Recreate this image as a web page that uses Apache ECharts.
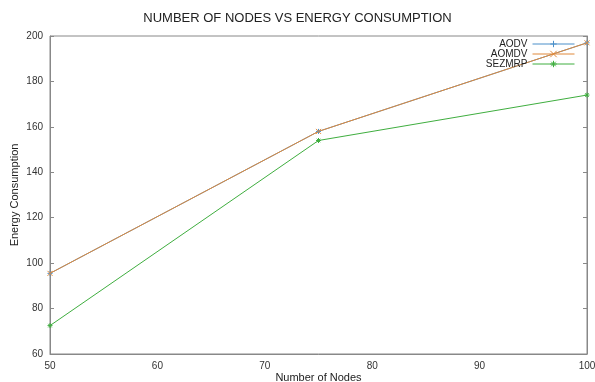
<!DOCTYPE html>
<html>
<head>
<meta charset="utf-8">
<script src="https://cdn.jsdelivr.net/npm/echarts@6/dist/echarts.min.js"></script>
<style>html,body{margin:0;padding:0;background:#fff}#c{width:595px;height:382px}</style>
</head>
<body>
<div id="c"></div>
<script>
const nodes = [50, 75, 100];
const aodv = [95.5, 158, 197];
const aomdv = [95.5, 158, 197];
const sezmrp = [72.5, 154, 174];
const xTicks = [50, 60, 70, 80, 90, 100];
const yTicks = [60, 80, 100, 120, 140, 160, 180, 200];

const FONT = 'Liberation Sans';
const plus = 'path://M0,5H10M5,0V10';
const cross = 'path://M0,0L10,10M10,0L0,10';
const star = 'path://M0,5H10M5,0V10M1.5,1.5L8.5,8.5M8.5,1.5L1.5,8.5';

function pairs(ys){ return nodes.map((x,i)=>[x, ys[i]]); }
function mk(name, ys, color, sym){
  return {
    name, type:'line', data: pairs(ys), symbol: sym, symbolSize: 5,
    showSymbol: true,
    lineStyle:{color, width:1},
    itemStyle:{color:'rgba(0,0,0,0)', borderColor: color, borderWidth: 1},
    emphasis:{disabled:true}, animation:false
  };
}
const chart = echarts.init(document.getElementById('c'), null, {renderer:'canvas'});
chart.setOption({
  animation:false,
  backgroundColor:'#fff',
  title:{text:'NUMBER OF NODES VS ENERGY CONSUMPTION', left:'center', top:7,
    textStyle:{fontFamily:FONT, fontSize:13, fontWeight:'normal', color:'#222'}},
  legend:{
    orient:'vertical', right:15, top:34, align:'right', itemGap:0,
    itemWidth:42, itemHeight:8,
    lineStyle:{width:1},
    itemStyle:{color:'rgba(0,0,0,0)', borderWidth:1},
    textStyle:{fontFamily:FONT, fontSize:10, color:'#222', padding:[0,0,0,0]},
    data:['AODV','AOMDV','SEZMRP']
  },
  grid:{left:50, right:8, top:36, bottom:28, show:true, borderColor:'#888', borderWidth:1,
    outerBoundsMode:'none', containLabel:false},
  xAxis:[{
    type:'value', min:50, max:100, interval:10,
    name:'Number of Nodes', nameLocation:'middle', nameGap:18, nameMoveOverlap:false,
    nameTextStyle:{fontFamily:FONT, fontSize:11, color:'#222'},
    axisLine:{show:true, lineStyle:{color:'#888'}},
    axisTick:{show:false},
    axisLabel:{fontFamily:FONT, fontSize:10, color:'#333', margin:7,
      formatter: v => xTicks.includes(v) ? String(v) : ''},
    splitLine:{show:false}
  }],
  yAxis:[{
    type:'value', min:60, max:200, interval:20,
    name:'Energy Consumption', nameLocation:'middle', nameGap:30, nameMoveOverlap:false,
    nameTextStyle:{fontFamily:FONT, fontSize:11, color:'#222'},
    axisLine:{show:true, lineStyle:{color:'#888'}},
    axisTick:{show:true, inside:true, length:4, lineStyle:{color:'#888'}},
    axisLabel:{fontFamily:FONT, fontSize:10, color:'#333', margin:7,
      formatter: v => yTicks.includes(v) ? String(v) : ''},
    splitLine:{show:false}
  },{
    type:'value', min:60, max:200, interval:20, position:'right',
    axisLine:{show:true, lineStyle:{color:'#888'}},
    axisTick:{show:true, inside:true, length:4, lineStyle:{color:'#888'}},
    axisLabel:{show:false}, splitLine:{show:false}
  }],
  series:[
    mk('AODV', aodv, '#4a8fc9', plus),
    mk('AOMDV', aomdv, '#e0893a', cross),
    mk('SEZMRP', sezmrp, '#3fae3f', star)
  ]
});
</script>
</body>
</html>
